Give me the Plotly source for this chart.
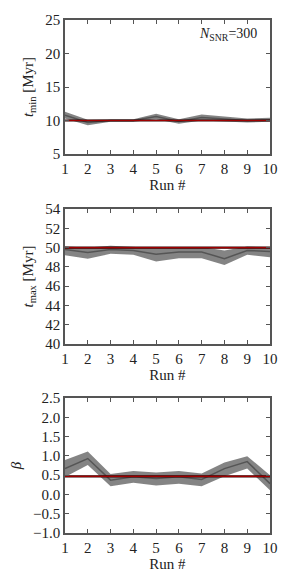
import plotly.graph_objects as go

runs = [1, 2, 3, 4, 5, 6, 7, 8, 9, 10]

tmin_true = 10.0
tmin_mid = [10.8, 9.7, 10.0, 10.0, 10.6, 9.85, 10.45, 10.2, 10.0, 10.1]
tmin_lo = [10.3, 9.3, 9.8, 9.8, 10.2, 9.5, 10.0, 9.8, 9.7, 9.8]
tmin_hi = [11.3, 10.1, 10.2, 10.2, 11.0, 10.2, 10.9, 10.6, 10.3, 10.4]

tmax_true = 50.0
tmax_mid = [49.8, 49.5, 49.8, 49.7, 49.3, 49.55, 49.55, 48.85, 49.7, 49.6]
tmax_lo = [49.2, 48.85, 49.35, 49.25, 48.55, 48.9, 48.9, 48.2, 49.25, 49.0]
tmax_hi = [50.1, 50.0, 50.2, 50.1, 49.95, 50.05, 50.05, 49.7, 50.1, 50.05]

beta_true = 0.47
beta_mid = [0.67, 0.93, 0.37, 0.46, 0.41, 0.46, 0.39, 0.67, 0.85, 0.28]
beta_lo = [0.45, 0.76, 0.21, 0.30, 0.23, 0.28, 0.21, 0.47, 0.67, 0.11]
beta_hi = [0.89, 1.11, 0.53, 0.61, 0.57, 0.61, 0.54, 0.83, 0.99, 0.50]

panels = [
    dict(mid=tmin_mid, lo=tmin_lo, hi=tmin_hi, true=tmin_true, rng=[5, 25], dtick=5,
         title="<i>t</i><sub>min</sub> [Myr]", fmt=None),
    dict(mid=tmax_mid, lo=tmax_lo, hi=tmax_hi, true=tmax_true, rng=[40, 54], dtick=2,
         title="<i>t</i><sub>max</sub> [Myr]", fmt=None),
    dict(mid=beta_mid, lo=beta_lo, hi=beta_hi, true=beta_true, rng=[-1.0, 2.5], dtick=0.5,
         title="<i>β</i>", fmt=".1f"),
]

# page body has an 8px margin; figure is sized to fit inside the window
OFF = 8
W, H = 291 - 2 * OFF, 581 - 2 * OFF
xdom = [(65 - OFF) / W, (270 - OFF) / W]
ydoms = [(20 - OFF, 154 - OFF), (209 - OFF, 344 - OFF), (398 - OFF, 533 - OFF)]

fig = go.Figure()
font = dict(family="Liberation Serif, DejaVu Serif, serif", size=15, color="#222")
axcol = "#555"

for i, p in enumerate(panels):
    n = "" if i == 0 else str(i + 1)
    xa, ya = "x" + n, "y" + n
    fig.add_trace(go.Scatter(x=runs, y=p["hi"], mode="lines", line=dict(width=0),
                             xaxis=xa, yaxis=ya, showlegend=False, hoverinfo="skip"))
    fig.add_trace(go.Scatter(x=runs, y=p["lo"], mode="lines", line=dict(width=0),
                             fill="tonexty", fillcolor="rgba(110,110,110,0.85)",
                             xaxis=xa, yaxis=ya, showlegend=False, hoverinfo="skip"))
    fig.add_trace(go.Scatter(x=runs, y=p["mid"], mode="lines",
                             line=dict(color="rgba(80,80,80,0.9)", width=1.5),
                             xaxis=xa, yaxis=ya, showlegend=False))
    fig.add_trace(go.Scatter(x=[runs[0], runs[-1]], y=[p["true"], p["true"]], mode="lines",
                             line=dict(color="#300", width=2.2),
                             xaxis=xa, yaxis=ya, showlegend=False))
    fig.add_trace(go.Scatter(x=[runs[0], runs[-1]], y=[p["true"], p["true"]], mode="lines",
                             line=dict(color="#a00000", width=1.2),
                             xaxis=xa, yaxis=ya, showlegend=False))
    top, bot = ydoms[i]
    xkey = "xaxis" + n
    ykey = "yaxis" + n
    fig.update_layout(**{
        xkey: dict(domain=xdom, anchor=ya, range=[1, 10], tickmode="array",
                   tickvals=runs, ticks="inside", ticklen=4, tickcolor=axcol,
                   showline=True, linecolor=axcol, linewidth=1.5, mirror="ticks",
                   showgrid=False, zeroline=False, automargin=False,
                   title=dict(text="Run #", font=font, standoff=1),
                   tickfont=font),
        ykey: dict(domain=[1 - bot / H, 1 - top / H], anchor=xa, range=p["rng"],
                   dtick=p["dtick"], tick0=p["rng"][0], ticks="inside", ticklen=4,
                   tickcolor=axcol, showline=True, linecolor=axcol, linewidth=1.5,
                   mirror="ticks", showgrid=False, zeroline=False, automargin=False,
                   tickformat=p["fmt"], title=dict(text=p["title"], font=font, standoff=8),
                   tickfont=font),
    })

fig.add_annotation(text="<i>N</i><sub>SNR</sub>=300", xref="x", yref="y",
                   x=9.5, y=22.8, xanchor="right", yanchor="middle",
                   showarrow=False, font=dict(family=font["family"], size=14, color="#222"))

fig.update_layout(width=W, height=H, margin=dict(l=0, r=0, t=0, b=0),
                  paper_bgcolor="white", plot_bgcolor="white", font=font)

fig.write_html("out.html")
